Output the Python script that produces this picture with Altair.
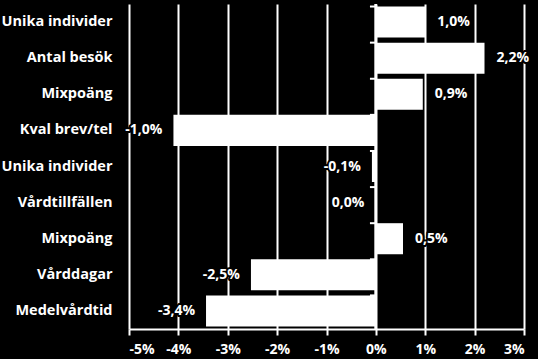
import json
import altair as alt
import pandas as pd

categories = ["Unika individer", "Antal besök", "Mixpoäng", "Kval brev/tel",
              "Unika individer", "Vårdtillfällen", "Mixpoäng", "Vårddagar", "Medelvårdtid"]
values = [1.0, 2.2, 0.95, -4.1, -0.08, -0.01, 0.55, -2.53, -3.44]
labels = ["1,0%", "2,2%", "0,9%", "-1,0%", "-0,1%", "0,0%", "0,5%", "-2,5%", "-3,4%"]
x_ticks = [-5, -4, -3, -2, -1, 0, 1, 2, 3]

df = pd.DataFrame({"idx": list(range(len(categories))), "cat": categories,
                   "v": values, "lab": labels})

FONT = "Open Sans"
W = "#ffffff"
K = "#000000"
lab_expr = json.dumps(categories) + "[datum.value]"

yenc = alt.Y("idx:O", title=None,
             scale=alt.Scale(paddingInner=0.14, paddingOuter=0.07),
             axis=alt.Axis(labelExpr=lab_expr, domain=False, ticks=False, grid=False,
                           labelPadding=17, labelFontSize=14.5, labelFont=FONT,
                           labelFontWeight="bold", labelColor=W))
xscale = alt.Scale(domain=[-5, 3], nice=False)
xenc = alt.X("v:Q", title=None, scale=xscale,
             axis=alt.Axis(values=x_ticks, labelExpr="datum.value + '%'",
                           grid=True, gridColor=W, gridWidth=2, gridOpacity=1,
                           domain=True, domainColor=W, domainWidth=2, domainOpacity=1,
                           ticks=True, tickColor=W, tickWidth=2, tickSize=6, tickOpacity=1,
                           labelPadding=7, labelFontSize=14, labelFont=FONT,
                           labelFontWeight="bold", labelColor=W))

base = alt.Chart(df)

bars = base.mark_bar(color=W).encode(x=xenc, x2=alt.datum(0), y=yenc)

zero = base.mark_rule(stroke=W, strokeWidth=2, opacity=1).encode(
    x=alt.datum(0), y=alt.value(0), y2=alt.value(325))

ticks = base.mark_rule(stroke=W, strokeWidth=2, opacity=1).encode(
    x=alt.datum(-0.12), x2=alt.datum(0),
    y=alt.Y("idx:O", bandPosition=0))

def textlayers(filt, align, dx):
    sub = base.transform_filter(filt)
    halo = sub.mark_text(align=align, dx=dx, baseline="middle", fontSize=14, font=FONT,
                         fontWeight="bold", fill=K, stroke=K, strokeWidth=4,
                         strokeJoin="round").encode(x="v:Q", y="idx:O", text="lab:N")
    txt = sub.mark_text(align=align, dx=dx, baseline="middle", fontSize=14, font=FONT,
                        fontWeight="bold", fill=W).encode(x="v:Q", y="idx:O", text="lab:N")
    return [halo, txt]

layers = [bars, zero, ticks] + textlayers("datum.v > 0", "left", 12) + \
    textlayers("datum.v <= 0", "right", -11)

chart = alt.layer(*layers).properties(
    width=395, height=325,
    autosize=alt.AutoSizeParams(type="none"),
    padding={"left": 129, "top": 4, "right": 14, "bottom": 30},
    background=K,
).configure_view(strokeWidth=0)

chart.save("out.html", embed_options={"renderer": "svg", "actions": False})
